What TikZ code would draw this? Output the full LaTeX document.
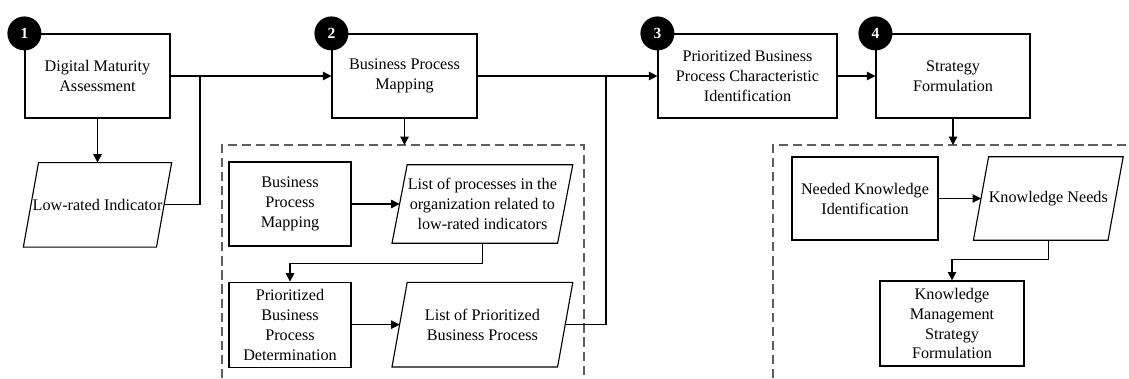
\documentclass[tikz,border=0pt]{standalone}
\usepackage{fontspec}
\setmainfont{Liberation Serif}
\usetikzlibrary{positioning,arrows.meta,calc}
\definecolor{dashgray}{RGB}{95,95,95}
\tikzset{
  pbox/.style={draw=black,fill=white,minimum height=2.1cm,
               font=\fontsize{11.5}{14.2}\selectfont,align=center,
               inner sep=2pt,line width=0.8pt},
  dbox/.style={minimum height=2.1cm,font=\fontsize{11.5}{14.2}\selectfont,
               align=center,inner sep=1pt},
  numdot/.style={circle,fill=black,text=white,minimum size=0.85cm,
                 inner sep=0pt,font=\bfseries\fontsize{11}{12}\selectfont},
  grp/.style={draw=dashgray,line width=1.1pt,dash pattern=on 6.5pt off 3.5pt},
  arr/.style={-{Triangle[length=6pt,width=6pt]},black,line width=0.8pt},
  lin/.style={black,line width=0.8pt},
}
% slanted outline round a data node
\newcommand\slantline[1]{%
  \draw[lin] ($(#1.south west)+(-0.19cm,0)$) -- ($(#1.north west)+(0.19cm,0)$)
    -- ($(#1.north east)+(0.19cm,0)$) -- ($(#1.south east)+(-0.19cm,0)$) -- cycle;}
\begin{document}
\begin{tikzpicture}[x=0.025cm,y=-0.025cm,node distance=1.1cm]
  \useasboundingbox (0,0) rectangle (1129,378);
  % main steps
  \node[pbox,minimum width=3.625cm] (b1) at (97.5,76) {Digital Maturity\\Assessment};
  \node[pbox,minimum width=3.625cm] (b2) at (404.5,76) {Business Process\\Mapping};
  \node[pbox,minimum width=4.475cm] (b3) at (747.5,76) {Prioritized Business\\Process Characteristic\\Identification};
  \node[pbox,minimum width=3.85cm] (b4) at (953,76) {Strategy\\Formulation};
  \node[dbox,minimum width=3.25cm,below=of b1] (low) {Low-rated Indicator};
  \foreach \n/\k in {b1/1,b2/2,b3/3,b4/4}
    \node[numdot] at (\n.north west) {\k};
  % group of step 2
  \draw[grp] (222,378) |- (584,145) -- (584,378);
  \node[pbox,minimum width=3.05cm] (bpm) at (290,204) {Business\\Process\\Mapping};
  \node[dbox,minimum width=4.125cm,minimum height=1.95cm,right=1.2cm of bpm] (list1)
    {List of processes in the\\organization related to\\low-rated indicators};
  \node[pbox,minimum width=3.05cm,minimum height=2.125cm,below=0.875cm of bpm] (pbd)
    {Prioritized\\Business\\Process\\Determination};
  \node[dbox,minimum width=4.125cm,right=1.2cm of pbd] (list2) {List of Prioritized\\Business Process};
  % group of step 4
  \draw[grp] (773,378) |- (1129,145);
  \node[pbox,minimum width=3.65cm,minimum height=2.075cm] (nki) at (865,198.5) {Needed Knowledge\\Identification};
  \node[dbox,minimum width=3.35cm,minimum height=2.075cm,right=1.06cm of nki] (kn) {Knowledge Needs};
  \node[pbox,minimum width=3.6cm,minimum height=2.125cm] (kms) at (952,323.5)
    {Knowledge\\Management\\Strategy\\Formulation};
  \foreach \n in {low,list1,list2,kn}
    \slantline{\n}
  \coordinate (j1) at (200,76);
  \coordinate (j2) at (606,76);
  \coordinate (g1) at (404.5,145);
  \coordinate (g2) at (953,145);
  % connectors
  \draw[arr] (b1) -- (b2);
  \draw[arr] (b1) -- (low);
  \draw[lin] (low.east) -| (j1);
  \draw[arr] (b2) -- (b3);
  \draw[arr] (b3) -- (b4);
  \draw[arr] (b2.south) -- (g1);
  \draw[arr] (b4.south) -- (g2);
  \draw[arr] (bpm) -- (list1);
  \draw[arr] (list1.south) -- ++(0,20) -| (pbd.north);
  \draw[arr] (pbd) -- (list2);
  \draw[lin] (list2.east) -| (j2);
  \draw[arr] (nki) -- (kn);
  \draw[arr] (kn.south) -- ++(0,19) -| (kms.north);
\end{tikzpicture}
\end{document}
